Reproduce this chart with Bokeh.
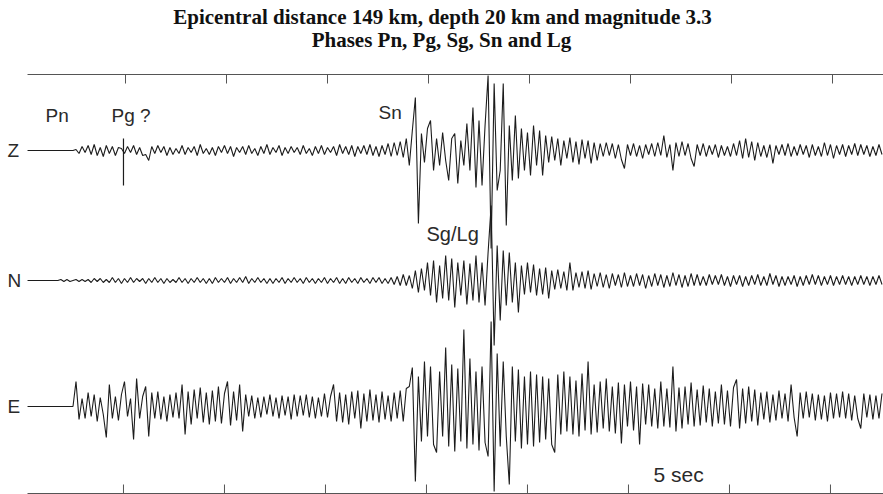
import numpy as np
from bokeh.plotting import figure
from bokeh.models import Range1d, LinearAxis, FixedTicker, Label
from bokeh.embed import file_html
from bokeh.resources import INLINE

# ---------------- data ----------------
TITLE_1 = "Epicentral distance 149 km, depth 20 km and magnitude 3.3"
TITLE_2 = "Phases Pn, Pg, Sg, Sn and Lg"

components = ["Z", "N", "E"]
trace_offsets = [343, 213, 87]          # vertical placement of each component
sample_start = 0.15                     # s
sample_step = 0.15                      # s
record_span = [0.15, 42.6]              # s, extent of the time lines

z_trace = [
    0, 0, 0, 0, 0, 0, 0, 0, 0, 0,
    0, 0, 0, 0, 0, 0, 1, -3, 4, -2,
    5, -4, 6, -5, 3, -6, 5, -3, 4, -5,
    3, 2, -3, 4, -2, 5, -4, 3, -5, -4,
    -10, 4, -3, 5, -2, 4, -5, 3, -4, 2,
    -3, 5, -4, 3, -2, 4, -5, 6, -3, 2,
    -4, 3, -5, 4, -2, 5, -3, 4, -6, 3,
    -2, 4, -4, 5, -3, 2, -5, 4, -3, 6,
    -4, 3, -2, 5, -5, 3, -3, 4, -2, 3,
    -4, 5, -3, 2, -5, 4, -3, 5, -4, 3,
    -2, 4, -5, 6, -3, 4, -4, 5, -6, 4,
    -3, 5, -4, 6, -5, 4, -6, 5, -4, 7,
    -6, 8, -5, 9, -7, 12, -15, 20, 53, -73,
    17, -12, 22, 30, -20, 12, -15, 18, -10, -30,
    12, 17, -33, 10, -15, 27, -20, 43, -37, 30,
    -35, 25, 75, -98, 67, -40, -20, 67, -75, 25,
    -30, 35, -28, 22, -20, 18, -25, 25, -15, 20,
    -25, 15, -12, 14, -10, 12, -15, 10, -8, 13,
    -12, 9, -14, 11, -8, 10, -13, 8, -10, 7,
    -6, 8, -5, 7, -8, 6, -9, -18, 6, -5,
    7, -6, 5, -8, 6, -4, 7, -6, 8, -5,
    15, -7, 6, -20, 8, -6, 9, -5, 7, -8,
    -16, 6, -5, 7, -6, 5, -4, 6, -7, 5,
    -5, 4, -6, 7, -5, 10, -8, 12, -7, 9,
    -10, 8, -6, 5, -7, 6, -13, 5, -4, 6,
    -5, 7, -6, 4, -5, 6, -4, 5, -7, 6,
    -5, 4, -6, 8, -5, 6, -8, 5, -4, 6,
    -6, 5, -4, 7, -5, 6, -4, 5, -6, 4,
    -5, 6, -4,
]

n_trace = [
    0, 0, 0, 0, 0, 0, 0, 0, 0, 0,
    0, 1, -1, 1, -1, 0, 1, -1, 1, -1,
    1, -2, 2, -1, 2, -2, 1, -2, 3, -2,
    2, -3, 2, -2, 3, -2, 2, -1, 2, -3,
    2, -2, 3, -2, 2, -3, 2, -2, 1, -2,
    3, -2, 2, -3, 2, -2, 3, -2, 2, -3,
    2, -3, 3, -2, 2, -2, 3, -3, 2, -2,
    3, -2, 4, -3, 2, -2, 3, -2, 2, -3,
    2, -3, 2, -2, 3, -3, 2, -2, 3, -2,
    2, -3, 3, -2, 2, -3, 2, -2, 3, -3,
    2, -2, 3, -3, 2, -3, 3, -2, 2, -3,
    3, -2, 2, -3, 3, -2, 3, -3, 2, -3,
    3, -4, 4, -5, 6, -5, 5, -8, 10, -12,
    12, -10, 18, -15, 20, -22, 15, -18, 25, -20,
    22, -27, 18, -15, 20, -24, 17, -20, 25, -22,
    18, -25, 28, 75, -65, 35, -40, 30, -25, 28,
    -22, 18, -32, 15, -14, 18, -12, 16, -15, 12,
    -14, 13, -18, 10, -9, 11, -8, 9, -10, 18,
    -10, 8, -7, 9, -8, 10, -9, 7, -6, 8,
    -7, 6, -8, 7, -5, 6, -7, 8, -6, 5,
    -6, 7, -5, 6, -8, 5, -6, 7, -5, 6,
    -7, 5, -6, 8, -5, 6, -7, 5, -6, 7,
    -5, 6, -5, 4, -5, 6, -4, 5, -4, 6,
    -5, 4, -6, 5, -4, 5, -6, 4, -5, 5,
    -4, 6, -5, 4, -5, 7, -4, 5, -6, 4,
    -5, 4, -4, 5, -6, 4, -5, 5, -4, 6,
    -4, 5, -5, 4, -4, 5, -5, 4, -4, 5,
    -4, 4, -5, 4, -4, 5, -4, 4, -5, 4,
    -4, 5, -4,
]

e_trace = [
    0, 0, 0, 0, 0, 0, 0, 0, 0, 0,
    0, 0, 0, 0, 0, 0, 25, -13, 8, -12,
    14, -10, 12, -15, 9, -8, -31, 22, -12, 10,
    -14, 12, 25, -10, 8, -33, 28, -12, 10, 20,
    -30, 14, -12, 15, -13, 10, -15, 12, -11, 14,
    -12, 22, -28, 15, -18, 17, -12, 19, -16, 14,
    -18, 16, -15, 20, -17, 13, 25, -19, 15, -14,
    22, -25, 12, -10, 11, -12, 9, -11, 10, -8,
    12, -10, 9, -12, 11, -9, 10, -13, 12, -10,
    11, -9, 12, -11, 10, -12, 9, -10, 13, -11,
    10, 22, -15, 14, -16, 12, -18, 15, -12, 16,
    -22, 13, -15, 17, -14, 12, -16, 15, -13, 11,
    -15, 14, -12, 16, -15, 18, 20, 39, -75, 30,
    -35, 45, -30, 40, -38, -46, 35, -30, 59, -40,
    42, -45, 38, -35, 77, -42, 48, -38, 35, -44,
    40, -36, -50, 85, -85, 53, -40, 45, -30, -78,
    40, -35, 37, -42, 30, -38, 35, -40, 32, -36,
    30, -33, 28, -38, -46, 32, -28, 35, -25, 30,
    -28, 26, -30, 33, -24, 45, -28, 22, -26, 25,
    -22, 28, -25, 20, -27, 24, -37, 22, -20, 25,
    -24, 20, -38, 23, -18, 22, -20, 18, -22, 25,
    -20, 18, -21, 40, -25, 19, -22, 20, -18, 24,
    -20, 17, -19, 21, -16, 18, -20, 15, -17, 22,
    -18, 16, -20, 19, 27, -22, 18, -17, 20, -15,
    17, -19, 14, -13, 15, -16, 12, -14, 16, -12,
    13, -15, 22, -11, -30, 14, -12, 15, -11, 13,
    -14, 12, -13, 11, -15, 14, -12, 13, -11, 15,
    -12, 13, -14, 11, -12, -22, 13, -11, 12, -13,
    11, -12, 13,
]

traces = [z_trace, n_trace, e_trace]

# time marks (5 s spacing)
top_ticks = [5, 10, 15, 20, 25, 30, 35, 40]
bottom_ticks = [4.9, 9.9, 14.9, 19.9, 24.9, 29.9, 34.9, 39.9]

# Pg pick marker on Z
pg_pick_time = [4.9]
pg_pick_up = [12]
pg_pick_down = [-35]

# ---------------- figure ----------------
PX0, PXS = 24.0, 20.2   # px of t=0, px per second
Y_MAX = 493             # frame covers the whole page height above the bottom line
TOP_LINE = 419          # level of the upper time line
p = figure(width=883, height=494, output_backend="svg", toolbar_location=None,
           title=None, x_axis_location=None, y_axis_location=None,
           x_range=Range1d(-PX0 / PXS, (883 - PX0) / PXS),
           y_range=Range1d(0, Y_MAX),
           min_border_left=0, min_border_right=0, min_border_top=0,
           min_border_bottom=1)
p.outline_line_color = None
p.background_fill_color = "white"
p.border_fill_color = "white"
p.xgrid.visible = False
p.ygrid.visible = False

AX_COL = "#555555"

# lower time line: a real axis (no labels), bounded to the record span
bottom_axis = LinearAxis(ticker=FixedTicker(ticks=[], minor_ticks=[]),
                         bounds=tuple(record_span),
                         major_tick_in=0, major_tick_out=0,
                         minor_tick_in=0, minor_tick_out=0,
                         major_label_standoff=0,
                         axis_line_color=AX_COL, axis_line_width=1)
p.add_layout(bottom_axis, "below")

# upper time line
p.line(x=record_span, y=[TOP_LINE, TOP_LINE], line_color=AX_COL, line_width=1)

# 5-second tick marks pointing inward from both time lines
TICK_LEN = 9
p.segment(x0=top_ticks, x1=top_ticks,
          y0=[TOP_LINE] * len(top_ticks), y1=[TOP_LINE - TICK_LEN] * len(top_ticks),
          line_color=AX_COL, line_width=1)
p.segment(x0=bottom_ticks, x1=bottom_ticks,
          y0=[0] * len(bottom_ticks), y1=[TICK_LEN] * len(bottom_ticks),
          line_color=AX_COL, line_width=1)

for comp, off, tr in zip(components, trace_offsets, traces):
    vals = np.array(tr, dtype=float)
    t = sample_start + sample_step * np.arange(len(vals))
    p.line(t, off + vals, line_color="#1c1c1c", line_width=1.1)

p.segment(x0=pg_pick_time, x1=pg_pick_time,
          y0=[trace_offsets[0] + v for v in pg_pick_up],
          y1=[trace_offsets[0] + v for v in pg_pick_down],
          line_color="#1c1c1c", line_width=1.2)

def tx(px):
    return (px - PX0) / PXS

def ty(py):
    return Y_MAX - py

# two-line heading
title_style = dict(text_font="Liberation Serif", text_font_size="21px",
                   text_font_style="bold", text_color="#111111",
                   text_align="center", text_baseline="middle")
p.add_layout(Label(x=tx(442), y=ty(16), text=TITLE_1, **title_style))
p.add_layout(Label(x=tx(441), y=ty(39), text=TITLE_2, **title_style))

lab_style = dict(text_font="Liberation Sans", text_color="#2a2a2a")
for comp, off in zip(components, trace_offsets):
    p.add_layout(Label(x=tx(7), y=off, text=comp, text_baseline="middle",
                       text_font_size="19px", **lab_style))
p.add_layout(Label(x=tx(45), y=ty(125), text="Pn", text_font_size="19px", **lab_style))
p.add_layout(Label(x=tx(111), y=ty(125), text="Pg ?", text_font_size="19px", **lab_style))
p.add_layout(Label(x=tx(378), y=ty(122), text="Sn", text_font_size="19px", **lab_style))
p.add_layout(Label(x=tx(426), y=ty(244), text="Sg/Lg", text_font_size="20px", **lab_style))
p.add_layout(Label(x=tx(653), y=ty(485), text="5 sec", text_font_size="21px", **lab_style))

open("out.html", "w").write(file_html(p, INLINE))
